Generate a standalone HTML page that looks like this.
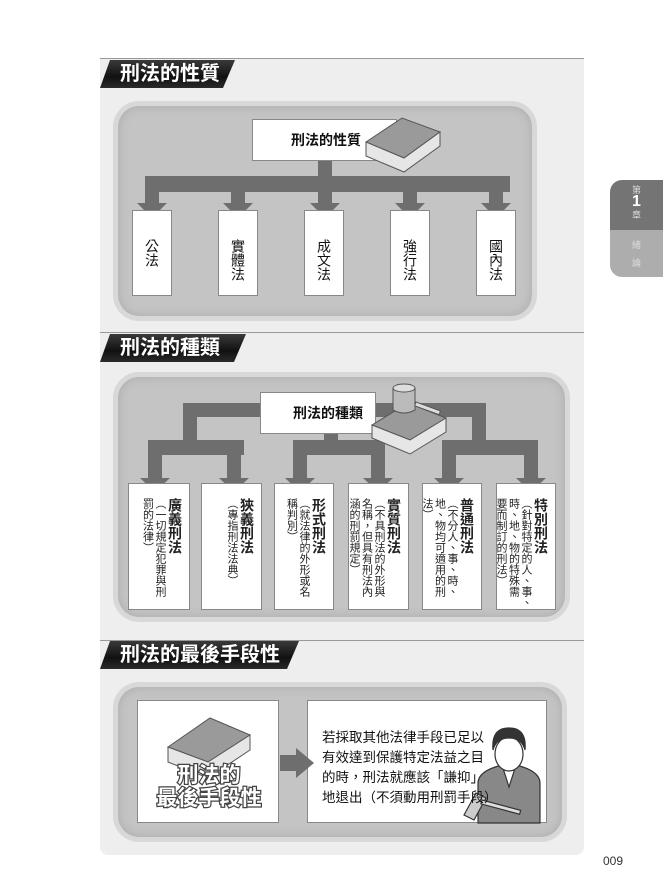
<!DOCTYPE html>
<html><head><meta charset="utf-8">
<style>
*{margin:0;padding:0;box-sizing:border-box}
body{width:663px;height:894px;background:#fff;position:relative;overflow:hidden;font-family:"Liberation Sans","Noto Sans CJK TC",sans-serif;color:#111}
.abs{position:absolute}
.panel{left:100px;top:58px;width:484px;height:797px;background:#eeeeee;border-radius:0 0 8px 8px}
.sep{height:1px;background:#999;left:100px;width:484px}
.banner{height:28px;background:linear-gradient(180deg,#3a3a3a,#111 60%,#2a2a2a);color:#fff;font-weight:bold;font-size:20px;line-height:28px;padding-left:20px;clip-path:polygon(10px 0,100% 0,calc(100% - 12px) 100%,0 100%)}
.rbox{background:#c4c4c4;border:5px solid #d8d8d8;border-radius:26px;box-shadow:inset 0 0 10px #aaa}
.wb{background:#fff;border:1px solid #888}
.v{writing-mode:vertical-rl;font-size:14px;line-height:16px;text-align:left;color:#111}
.k{writing-mode:vertical-rl;white-space:nowrap;padding-top:14px;padding-right:5px;font-size:11px;line-height:12.5px;color:#222}
.k b{font-size:14px;line-height:18px}
</style></head><body>
<div class="abs panel"></div>
<div class="abs sep" style="top:58px"></div>
<div class="abs sep" style="top:332px"></div>
<div class="abs sep" style="top:640px"></div>

<div class="abs" style="left:610px;top:180px;width:53px;height:97px;border-radius:12px 0 0 12px;overflow:hidden">
<div style="height:50px;background:#747474;color:#ddd;font-size:9px;text-align:center;padding-top:4px;line-height:12px">第<br><span style="font-size:16px;color:#fff;font-weight:bold">1</span><br>章</div>
<div style="height:47px;background:#adadad;color:#ddd;font-size:9px;text-align:center;padding-top:6px;line-height:18px">緒<br>論</div>
</div>

<!-- Section 1 -->
<div class="abs banner" style="left:100px;top:60px;width:135px">刑法的性質</div>
<div class="abs rbox" style="left:113px;top:101px;width:424px;height:220px"></div>
<div class="abs wb" style="left:252px;top:119px;width:145px;height:42px;font-weight:bold;font-size:14px;line-height:40px;padding-left:38px">刑法的性質</div>
<svg class="abs" style="left:0;top:0" width="663" height="894">
<g fill="#6e6e6e">
<rect x="318" y="161" width="14" height="18"/>
<rect x="145" y="176" width="365" height="16"/>
<rect x="145" y="176" width="14" height="30"/><polygon points="137,203 167,203 152,218"/>
<rect x="231" y="176" width="14" height="30"/><polygon points="223,203 253,203 238,218"/>
<rect x="318" y="176" width="14" height="30"/><polygon points="310,203 340,203 325,218"/>
<rect x="403" y="176" width="14" height="30"/><polygon points="395,203 425,203 410,218"/>
<rect x="489" y="176" width="14" height="30"/><polygon points="481,203 511,203 496,218"/>
</g>
<g stroke="#555" stroke-width="1">
<polygon points="366,142 402,118 440,132 404,158" fill="#9a9a9a"/>
<path d="M366,142 L404,158 L440,132 L440,146 L404,172 L366,156 Z" fill="#e6e6e6"/>
</g>
</svg>
<div class="abs wb v" style="left:132px;top:210px;width:40px;height:86px;padding:28px 11px 0 0">公法</div>
<div class="abs wb v" style="left:218px;top:210px;width:40px;height:86px;padding:28px 11px 0 0">實體法</div>
<div class="abs wb v" style="left:304px;top:210px;width:40px;height:86px;padding:28px 11px 0 0">成文法</div>
<div class="abs wb v" style="left:390px;top:210px;width:40px;height:86px;padding:28px 11px 0 0">強行法</div>
<div class="abs wb v" style="left:476px;top:210px;width:40px;height:86px;padding:28px 11px 0 0">國內法</div>

<!-- Section 2 -->
<div class="abs banner" style="left:100px;top:334px;width:146px">刑法的種類</div>
<div class="abs rbox" style="left:113px;top:372px;width:457px;height:250px"></div>
<svg class="abs" style="left:0;top:0" width="663" height="894">
<g fill="#6e6e6e">
<rect x="183" y="403" width="80" height="14"/>
<rect x="183" y="403" width="14" height="45"/>
<rect x="148" y="440" width="96" height="15"/>
<rect x="148" y="440" width="14" height="40"/><polygon points="140,478 170,478 155,492"/>
<rect x="227" y="440" width="14" height="40"/><polygon points="219,478 249,478 234,492"/>
<rect x="324" y="433" width="14" height="15"/>
<rect x="293" y="440" width="92" height="15"/>
<rect x="293" y="440" width="14" height="40"/><polygon points="285,478 315,478 300,492"/>
<rect x="371" y="440" width="14" height="40"/><polygon points="363,478 393,478 378,492"/>
<rect x="376" y="403" width="110" height="14"/>
<rect x="472" y="403" width="14" height="45"/>
<rect x="442" y="440" width="96" height="15"/>
<rect x="442" y="440" width="14" height="40"/><polygon points="434,478 464,478 449,492"/>
<rect x="524" y="440" width="14" height="40"/><polygon points="516,478 546,478 531,492"/>
</g>
</svg>
<div class="abs wb" style="left:260px;top:392px;width:116px;height:42px;font-weight:bold;font-size:14px;line-height:40px;padding-left:32px">刑法的種類</div>
<svg class="abs" style="left:0;top:0" width="663" height="894">
<g stroke="#555" stroke-width="1">
<polygon points="372,425 408,403 446,418 410,440" fill="#9a9a9a"/>
<path d="M372,425 L410,440 L446,418 L446,432 L410,454 L372,438 Z" fill="#e6e6e6"/>
<rect x="416" y="402" width="26" height="4" fill="#ddd" transform="rotate(20 416 402)"/>
<path d="M393,388 q11,-6 22,0 v22 q-11,6 -22,0 Z" fill="#bbb"/>
<ellipse cx="404" cy="388" rx="11" ry="4" fill="#ddd"/>
</g>
</svg>
<div class="abs wb k" style="left:128px;top:483px;width:62px;height:127px"><b>廣義刑法</b><br>（一切規定犯罪與刑<br>罰的法律）</div>
<div class="abs wb k" style="left:201px;top:483px;width:61px;height:127px"><b>狹義刑法</b><br>（專指刑法法典）</div>
<div class="abs wb k" style="left:274px;top:483px;width:60px;height:127px"><b>形式刑法</b><br>（就法律的外形或名<br>稱判別）</div>
<div class="abs wb k" style="left:348px;top:483px;width:61px;height:127px"><b>實質刑法</b><br>（不具刑法的外形與<br>名稱，但具有刑法內<br>涵的刑罰規定）</div>
<div class="abs wb k" style="left:422px;top:483px;width:60px;height:127px"><b>普通刑法</b><br>（不分人、事、時、<br>地、物均可適用的刑<br>法）</div>
<div class="abs wb k" style="left:496px;top:483px;width:60px;height:127px"><b>特別刑法</b><br>（針對特定的人、事、<br>時、地、物的特殊需<br>要而制訂的刑法）</div>

<!-- Section 3 -->
<div class="abs banner" style="left:100px;top:641px;width:199px">刑法的最後手段性</div>
<div class="abs rbox" style="left:113px;top:682px;width:454px;height:160px"></div>
<div class="abs wb" style="left:137px;top:700px;width:142px;height:123px"></div>
<div class="abs wb" style="left:307px;top:700px;width:240px;height:123px"></div>
<svg class="abs" style="left:0;top:0" width="663" height="894">
<g fill="#6e6e6e"><rect x="280" y="755" width="18" height="16"/><polygon points="296,748 314,763 296,778"/></g>
<g stroke="#555" stroke-width="1">
<polygon points="168,747 210,718 250,735 208,762" fill="#9a9a9a"/>
<path d="M168,747 L208,762 L250,735 L250,750 L208,778 L168,762 Z" fill="#e6e6e6"/>
</g>
<g stroke="#333" stroke-width="1.2">
<path d="M478,823 v-40 q0,-12 24,-18 h14 q24,6 24,18 v40 Z" fill="#888"/>
<path d="M502,765 l7,22 l7,-22 Z" fill="#fff"/>
<ellipse cx="509" cy="754" rx="14" ry="17" fill="#fff"/>
<path d="M493,750 q-2,-22 16,-22 q18,0 16,22 q-3,-12 -16,-12 q-13,0 -16,12 Z" fill="#333"/>
<path d="M464,815 l12,-22 l10,5 l-12,22 Z" fill="#ccc"/>
<rect x="482" y="800" width="40" height="4" fill="#ddd" transform="rotate(15 482 800)"/>
</g>
</svg>
<div class="abs" style="left:150px;top:764px;width:118px;text-align:center;font-weight:bold;font-size:21px;line-height:23px;color:#fff;-webkit-text-stroke:2.5px #444;paint-order:stroke fill">刑法的<br>最後手段性</div>
<div class="abs" style="left:322px;top:728px;font-size:13.5px;line-height:20px;color:#111">若採取其他法律手段已足以<br>有效達到保護特定法益之目<br>的時，刑法就應該「謙抑」<br>地退出（不須動用刑罰手段）</div>

<div class="abs" style="left:603px;top:854px;font-size:12px;color:#333">009</div>
</body></html>
